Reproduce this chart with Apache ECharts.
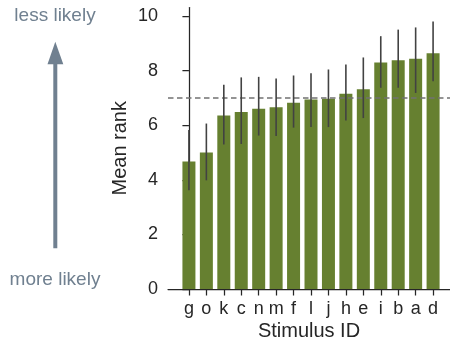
<!DOCTYPE html>
<html><head><meta charset="utf-8">
<script src="https://cdn.jsdelivr.net/npm/echarts@6/dist/echarts.min.js"></script>
<style>html,body{margin:0;padding:0;background:#fff}#c{width:450px;height:343px}</style>
</head><body><div id="c"></div>
<script>
const categories = ['g','o','k','c','n','m','f','l','j','h','e','i','b','a','d'];
const meanRank = [4.67,5.00,6.35,6.48,6.60,6.66,6.82,6.94,6.97,7.15,7.32,8.30,8.38,8.43,8.63];
const errLow  = [3.62,3.98,5.29,5.31,5.62,5.60,5.91,5.93,5.93,6.17,6.26,7.37,7.37,7.18,7.61];
const errHigh = [5.82,6.06,7.48,7.75,7.77,7.71,7.82,7.90,8.04,8.22,8.48,9.26,9.50,9.58,9.80];
const yTicks = [0, 2, 4, 6, 8, 10];
const refLine = 7;
const topNote = 'less likely';
const bottomNote = 'more likely';

const FONT = '"Liberation Sans", Arial, sans-serif';
const idx = categories.map((c, i) => i);
const chart = echarts.init(document.getElementById('c'), null, {renderer: 'canvas'});
chart.setOption({
  animation: false,
  backgroundColor: '#fff',
  textStyle: {fontFamily: FONT},
  grid: {left: 168, right: 0, top: 7.5, bottom: 54, containLabel: false, outerBoundsMode: 'none'},
  xAxis: {
    type: 'value', min: -1.2, max: 14.97,
    splitLine: {show: false},
    axisLine: {show: true, lineStyle: {color: '#262626', width: 1.25}},
    axisTick: {show: true, customValues: idx, length: 6.5, lineStyle: {color: '#262626', width: 1.25}},
    axisLabel: {customValues: idx, formatter: v => categories[Math.round(v)], fontSize: 18, color: '#262626', margin: 11, fontFamily: FONT},
    name: 'Stimulus ID', nameLocation: 'middle', nameGap: 32, nameMoveOverlap: false,
    nameTextStyle: {fontSize: 20, color: '#262626', fontFamily: FONT}
  },
  yAxis: {
    type: 'value', min: 0, max: 10.31,
    splitLine: {show: false},
    axisLine: {show: true, lineStyle: {color: '#262626', width: 1.25}},
    axisTick: {show: true, customValues: yTicks, length: 6.5, lineStyle: {color: '#262626', width: 1.25}},
    axisLabel: {customValues: yTicks, fontSize: 18, color: '#262626', margin: 10, fontFamily: FONT},
    name: 'Mean rank', nameLocation: 'middle', nameGap: 38, nameMoveOverlap: false,
    nameTextStyle: {fontSize: 20, color: '#262626', fontFamily: FONT}
  },
  series: [
    {
      type: 'bar',
      data: meanRank.map((v, i) => [i, v]),
      barWidth: 13,
      itemStyle: {color: '#668030'},
      markLine: {
        silent: true, symbol: 'none',
        label: {show: false},
        lineStyle: {type: [5.5, 3.5], color: '#727272', width: 1.5},
        data: [{yAxis: refLine}]
      }
    },
    {
      type: 'custom',
      z: 5,
      data: idx.map(i => [i, errLow[i], errHigh[i]]),
      renderItem: (params, api) => {
        const x = api.value(0);
        const lo = api.coord([x, api.value(1)]);
        const hi = api.coord([x, api.value(2)]);
        return {type: 'line', shape: {x1: lo[0], y1: lo[1], x2: hi[0], y2: hi[1]},
          style: {stroke: '#424242', lineWidth: 1.6}};
      }
    }
  ],
  graphic: [
    {type: 'text', x: 55, y: 15.5, style: {text: topNote, fontSize: 19, fill: '#708090', fontFamily: FONT, align: 'center', verticalAlign: 'middle'}},
    {type: 'text', x: 55, y: 280, style: {text: bottomNote, fontSize: 19, fill: '#708090', fontFamily: FONT, align: 'center', verticalAlign: 'middle'}},
    {type: 'line', shape: {x1: 55.3, y1: 248.3, x2: 55.3, y2: 62}, style: {stroke: '#708090', lineWidth: 4}},
    {type: 'polygon', shape: {points: [[47.5, 64.3], [63.3, 64.3], [55.3, 41.7]]}, style: {fill: '#708090'}}
  ]
});
</script></body></html>
